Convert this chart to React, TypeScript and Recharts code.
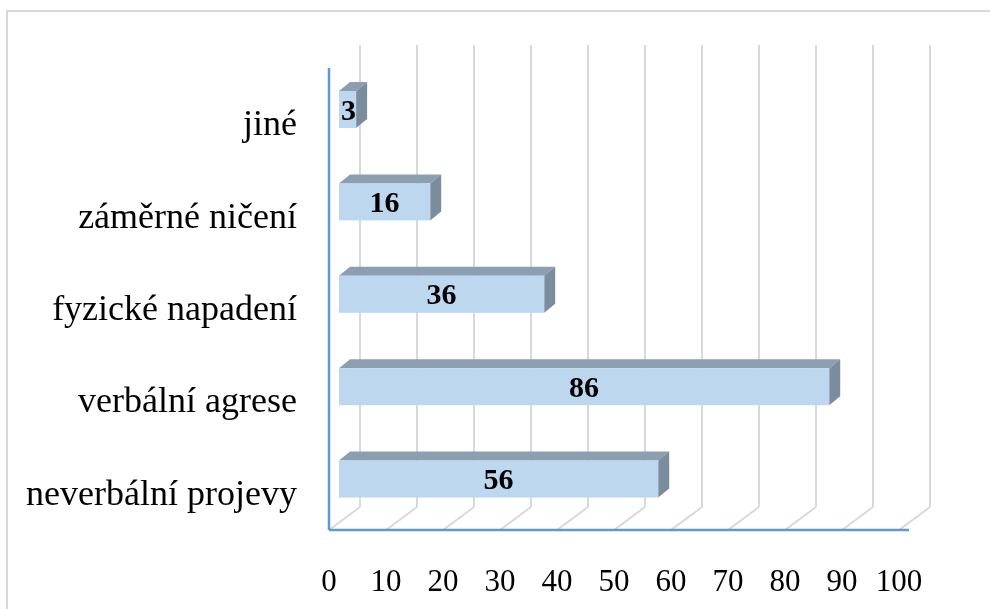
import React from 'react'
import { BarChart, Bar, XAxis, YAxis, CartesianGrid, LabelList } from 'recharts'

// bottom-to-top order (Excel style)
const categories = ['neverbální projevy', 'verbální agrese', 'fyzické napadení', 'záměrné ničení', 'jiné']
const counts = [56, 86, 36, 16, 3]
const xTicks = [0, 10, 20, 30, 40, 50, 60, 70, 80, 90, 100]

const data = categories.map((name, i) => ({ name, value: counts[i] }))

// fake 3d: floor depth for gridlines, bar offset/depth
const FLOOR_DX = 31
const FLOOR_DY = -23
const BAR_SHIFT_X = 10
const BAR_SHIFT_Y = -5
const BAR_DX = 11
const BAR_DY = -9

const FONT = '"Liberation Serif", "Times New Roman", serif'
const AXIS_BLUE = '#5B9BD5'
const GRID_GREY = '#D9D9D9'

const Bar3D = (props: any) => {
  const { x, y, width, height } = props
  if (width == null || height == null) return null
  const fx = x + BAR_SHIFT_X
  const fy = y + BAR_SHIFT_Y
  const w = Math.max(width, 0)
  return (
    <g>
      <polygon
        points={`${fx},${fy} ${fx + BAR_DX},${fy + BAR_DY} ${fx + w + BAR_DX},${fy + BAR_DY} ${fx + w},${fy}`}
        fill="#8C9FB1"
      />
      <polygon
        points={`${fx + w},${fy} ${fx + w + BAR_DX},${fy + BAR_DY} ${fx + w + BAR_DX},${fy + height + BAR_DY} ${fx + w},${fy + height}`}
        fill="#7B8C9C"
      />
      <rect x={fx} y={fy} width={w} height={height} fill="#BDD7EE" />
    </g>
  )
}

// back wall line + diagonal on the floor; the last one also stretches the floor edge a bit
const GridLine3D = (props: any) => {
  const { x1, y1, x2, y2, index } = props
  return (
    <g>
      <line x1={x1 + FLOOR_DX} y1={y1 + FLOOR_DY} x2={x2 + FLOOR_DX} y2={y2 + FLOOR_DY} stroke={GRID_GREY} strokeWidth={2} />
      <line x1={x2} y1={y2} x2={x2 + FLOOR_DX} y2={y2 + FLOOR_DY} stroke={GRID_GREY} strokeWidth={2} />
      {index === xTicks.length - 1 && (
        <line x1={x2} y1={y2} x2={x2 + 10} y2={y2} stroke={AXIS_BLUE} strokeWidth={2.5} />
      )}
    </g>
  )
}

const ValueLabel = (props: any) => {
  const { x, y, width, height, value } = props
  return (
    <text
      x={x + BAR_SHIFT_X + width / 2 + (value < 5 ? 1 : 0)}
      y={y + BAR_SHIFT_Y + height / 2 + 10}
      textAnchor="middle"
      fontFamily={FONT}
      fontWeight="bold"
      fontSize={30}
      fill="#000"
    >
      {value}
    </text>
  )
}

const CategoryTick = (props: any) => {
  const { y, payload } = props
  return (
    <text x={289} y={y + 21} textAnchor="end" fontFamily={FONT} fontSize={36} fill="#000">
      {payload.value}
    </text>
  )
}

const ValueTick = (props: any) => {
  const { x, payload } = props
  return (
    <text x={x} y={583} textAnchor="middle" fontFamily={FONT} fontSize={31} fill="#000">
      {payload.value}
    </text>
  )
}

const App: React.FC = () => {
  return (
    <div style={{ position: 'relative', width: 982, height: 601 }}>
      <div
        style={{
          position: 'fixed',
          left: 6,
          top: 10,
          width: 984,
          height: 599,
          boxSizing: 'border-box',
          borderLeft: `2px solid ${GRID_GREY}`,
          borderTop: `2px solid ${GRID_GREY}`,
        }}
      />
      <BarChart
        width={982}
        height={601}
        data={data}
        layout="vertical"
        margin={{ top: 60, right: 91, bottom: 29, left: 21 }}
        style={{ position: 'relative' }}
      >
        <CartesianGrid horizontal={false} vertical={GridLine3D} />
        <XAxis
          type="number"
          domain={[0, 100]}
          ticks={xTicks}
          tickLine={false}
          axisLine={{ stroke: AXIS_BLUE, strokeWidth: 2.5 }}
          tick={ValueTick}
          height={50}
          interval={0}
        />
        <YAxis
          type="category"
          dataKey="name"
          reversed
          width={300}
          tickLine={false}
          axisLine={{ stroke: AXIS_BLUE, strokeWidth: 2.5 }}
          tick={CategoryTick}
          interval={0}
        />
        <Bar dataKey="value" barSize={37} shape={Bar3D} isAnimationActive={false}>
          <LabelList dataKey="value" content={ValueLabel} />
        </Bar>
      </BarChart>
    </div>
  )
}

export default App
